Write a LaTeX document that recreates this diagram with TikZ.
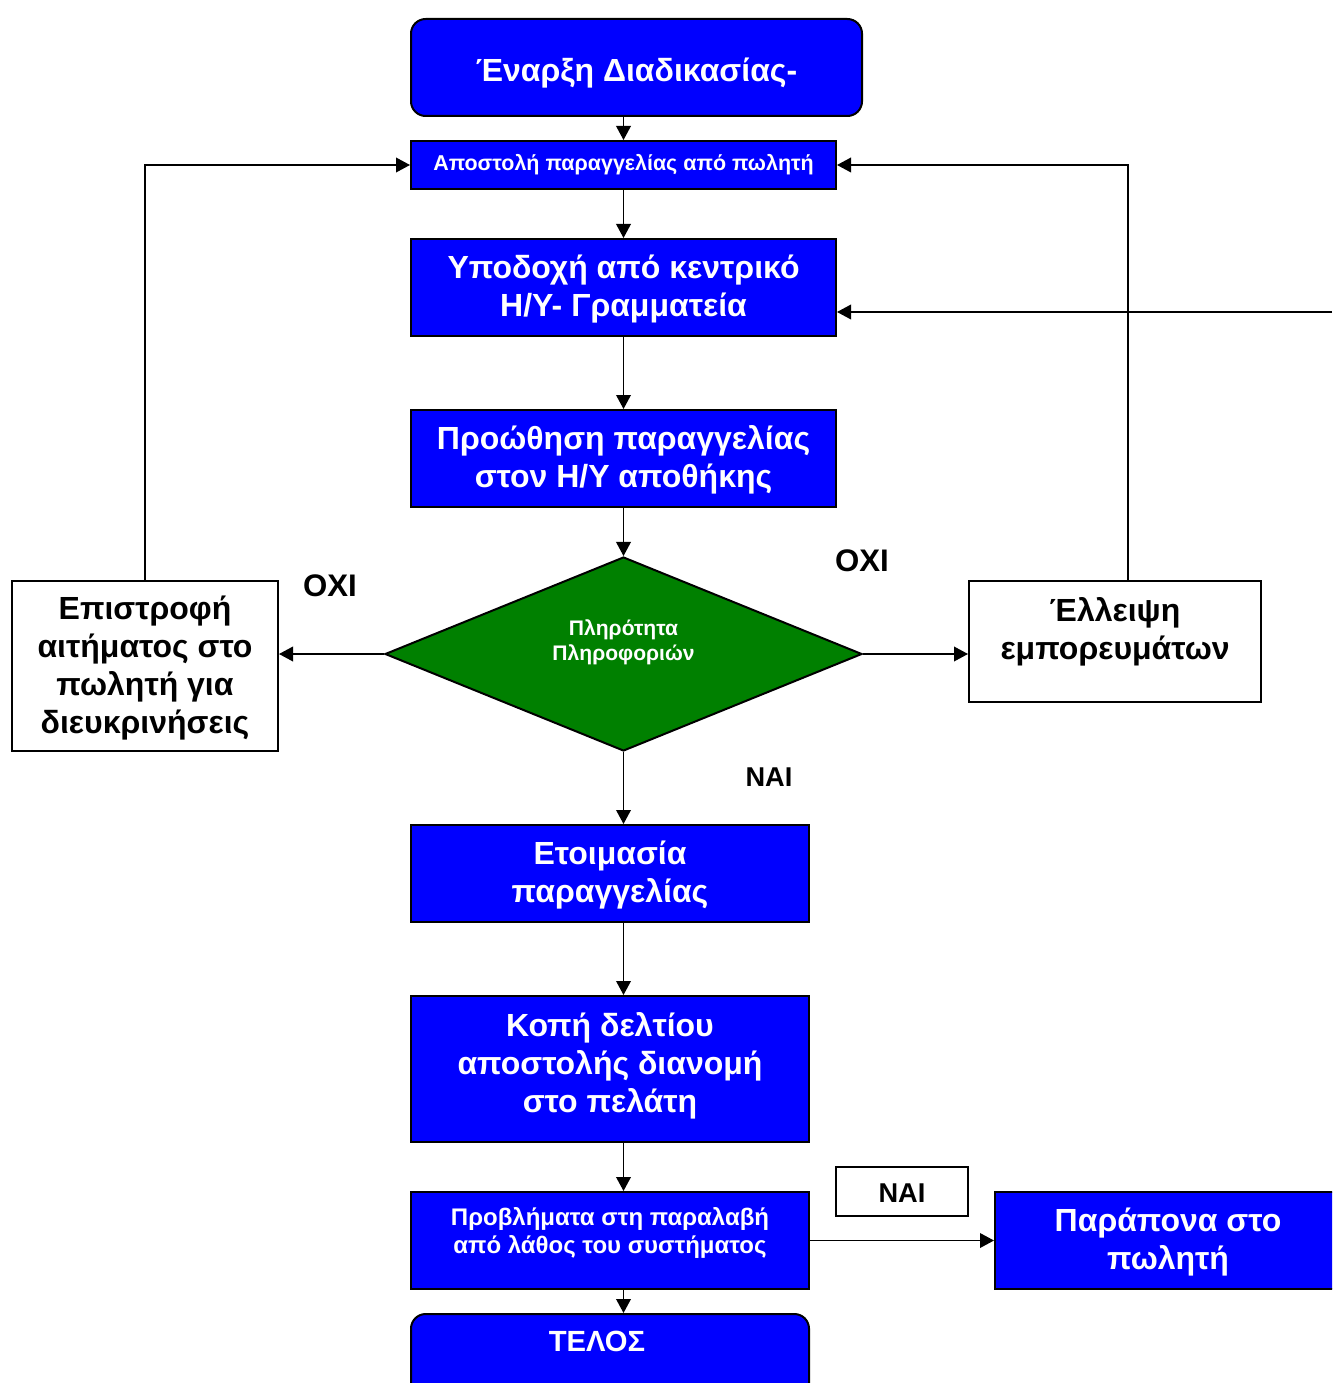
\documentclass[tikz,border=0pt]{standalone}
\usepackage{fontspec}
\setmainfont{Liberation Sans}
\usetikzlibrary{shapes.geometric,arrows.meta}
\definecolor{procblue}{RGB}{0,0,255}
\definecolor{decgreen}{RGB}{0,128,0}
\newcommand{\bigtxt}{\fontsize{24}{28.5}\selectfont\bfseries}
\newcommand{\midtxt}{\fontsize{18}{21}\selectfont\bfseries}
\newcommand{\smalltxt}{\fontsize{16.1}{18}\selectfont\bfseries}
\newcommand{\dectxt}{\fontsize{15.8}{18.75}\selectfont\bfseries}
\begin{document}
\begin{tikzpicture}[x=0.75pt,y=-0.75pt,
  bluebox/.style={draw=black,line width=1.5pt,fill=procblue,text=white,
    align=center,inner sep=0pt,font=\bigtxt},
  whitebox/.style={draw=black,line width=1.5pt,fill=white,text=black,
    align=center,inner sep=0pt,font=\bigtxt},
  plaintxt/.style={align=center,inner sep=0pt,font=\bigtxt},
  wlabel/.style={fill=white,inner sep=0pt,align=center},
  arr/.style={draw=black,line width=1.1pt,-{Triangle[length=10.5pt,width=11pt]}},
  line/.style={draw=black,line width=1.1pt}]
\useasboundingbox (0,0) rectangle (1332,1383);
\clip (0,0) rectangle (1332,1383);
\fill[white] (0,0) rectangle (1332,1383);

% white patches behind the branch labels
\node[wlabel,minimum width=120pt,minimum height=48pt] (oxiLbg) at (330,588) {};
\node[wlabel,minimum width=120pt,minimum height=55pt] (oxiRbg) at (862,568) {};
\node[wlabel,minimum width=140pt,minimum height=36pt] (naibg) at (769,776) {};

% process boxes
\node[bluebox,rounded corners=11pt,minimum width=338.25pt,minimum height=72.75pt] (start) at (636.5,67.5) {};
\node[plaintxt,text=white] (startT) at (636.5,73) {Έναρξη Διαδικασίας-};
\node[bluebox,font=\smalltxt,minimum width=318.75pt,minimum height=36pt] (send) at (623.5,165) {Αποστολή παραγγελίας από πωλητή};
\node[bluebox,minimum width=318.75pt,minimum height=72.75pt] (recv) at (623.5,287.5) {};
\node[plaintxt,text=white] (recvT) at (623.5,289) {Υποδοχή από κεντρικό\\Η/Υ- Γραμματεία};
\node[bluebox,minimum width=318.75pt,minimum height=72.75pt] (fwd) at (623.5,458.5) {};
\node[plaintxt,text=white] (fwdT) at (623.5,460) {Προώθηση παραγγελίας\\στον Η/Υ αποθήκης};

% decision
\node[diamond,draw=black,line width=1.5pt,fill=decgreen,text=white,
  aspect=2.46,inner sep=0pt,minimum width=357.75pt,minimum height=145.5pt,
  align=center,font=\dectxt] (dec) at (623.5,654) {};
\node[align=center,inner sep=0pt,text=white,font=\dectxt] (decT) at (623.5,642) {Πληρότητα\\Πληροφοριών};

% side boxes
\node[whitebox,minimum width=199.5pt,minimum height=127.5pt] (ret) at (145,666) {};
\node[plaintxt] (retT) at (145,668) {Επιστροφή\\αιτήματος στο\\πωλητή για\\διευκρινήσεις};
\node[whitebox,minimum width=219pt,minimum height=90.75pt] (lack) at (1115,641.5) {};
\node[plaintxt] (lackT) at (1115,631.5) {Έλλειψη\\εμπορευμάτων};

% lower chain
\node[bluebox,minimum width=298.5pt,minimum height=72.75pt] (prep) at (610,873.5) {};
\node[plaintxt,text=white] (prepT) at (610,875.5) {Ετοιμασία\\παραγγελίας};
\node[bluebox,minimum width=298.5pt,minimum height=109.5pt] (inv) at (610,1069) {};
\node[plaintxt,text=white] (invT) at (610,1065.5) {Κοπή δελτίου\\αποστολής διανομή\\στο πελάτη};
\node[bluebox,minimum width=298.5pt,minimum height=72.75pt] (prob) at (610,1240.5) {};
\node[plaintxt,text=white,font=\midtxt] (probT) at (610,1232.5) {Προβλήματα στη παραλαβή\\από λάθος του συστήματος};
\node[bluebox,minimum width=259.5pt,minimum height=72.75pt] (comp) at (1168,1240.5) {};
\node[plaintxt,text=white] (compT) at (1168,1242) {Παράπονα στο\\πωλητή};
\node[whitebox,font=\fontsize{20.4}{22}\selectfont\bfseries,minimum width=99pt,minimum height=36.75pt] (naiB) at (902,1191.5) {};
\node[plaintxt,font=\fontsize{20.4}{22}\selectfont\bfseries] (naiBT) at (902,1193) {NAI};
\node[bluebox,rounded corners=11pt,minimum width=298.5pt,minimum height=64.5pt] (end) at (610,1357) {};
\node[plaintxt,text=white,font=\fontsize{21.9}{24}\selectfont\bfseries] (endT) at (597,1341) {ΤΕΛΟΣ};

% branch labels
\node[plaintxt,font=\fontsize{23.4}{26}\selectfont\bfseries] (oxiL) at (330,586) {OXI};
\node[plaintxt,font=\fontsize{23.4}{26}\selectfont\bfseries] (oxiR) at (862,561) {OXI};
\node[plaintxt,font=\fontsize{20.4}{22}\selectfont\bfseries] (nai) at (769,777) {NAI};

% connectors
\coordinate (feed) at (1332,312);
\draw[arr] (send.north |- start.south) -- (send.north);
\draw[arr] (send) -- (recv);
\draw[arr] (recv) -- (fwd);
\draw[arr] (fwd) -- (dec);
\draw[arr] (dec.west) -- (dec.west -| ret.east);
\draw[arr] (dec.east) -- (dec.east -| lack.west);
\draw[arr] (ret.north) |- (send.west);
\draw[arr] ([xshift=9.75pt]lack.north) |- (send.east);
\draw[arr] (feed) -- (feed -| recv.east);
\draw[arr] (dec.south) -- (dec.south |- prep.north);
\draw[arr] (prep.south -| dec.south) -- (inv.north -| dec.south);
\draw[arr] (inv.south -| dec.south) -- (prob.north -| dec.south);
\draw[arr] (prob.south -| dec.south) -- (end.north -| dec.south);
\draw[arr] (prob) -- (comp);
\end{tikzpicture}
\end{document}
